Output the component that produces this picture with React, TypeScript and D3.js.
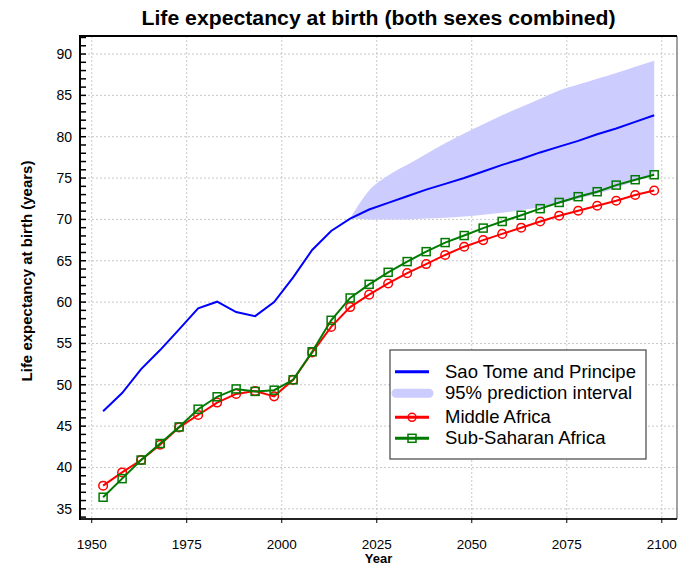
import React from "react";
import * as d3 from "d3";

const years = [1953,1958,1963,1968,1973,1978,1983,1988,1993,1998,2003,2008,2013,2018,2023,2028,2033,2038,2043,2048,2053,2058,2063,2068,2073,2078,2083,2088,2093,2098];
const saoTome = [46.8,49.0,51.9,54.2,56.7,59.25,60.05,58.8,58.3,60.0,63.0,66.3,68.6,70.1,71.2,72.0,72.8,73.6,74.3,75.0,75.8,76.6,77.3,78.1,78.8,79.5,80.3,81.0,81.8,82.6];
const middleAfrica = [37.8,39.4,40.9,42.75,44.85,46.35,47.85,48.9,49.25,48.6,50.6,53.9,57.0,59.4,60.9,62.25,63.5,64.6,65.7,66.7,67.5,68.25,69.0,69.75,70.45,71.05,71.65,72.25,72.95,73.5];
const subSaharan = [36.4,38.65,40.9,42.9,44.9,47.05,48.55,49.5,49.2,49.35,50.6,54.0,57.8,60.5,62.15,63.6,64.9,66.1,67.2,68.05,68.95,69.75,70.5,71.3,72.05,72.75,73.35,74.15,74.8,75.4];
const bandYears = [2018,2023,2028,2033,2038,2043,2048,2053,2058,2063,2068,2073,2078,2083,2088,2093,2098];
const bandUpper = [70.1,73.5,75.3,76.6,77.9,79.2,80.4,81.5,82.6,83.6,84.6,85.6,86.3,87.0,87.7,88.45,89.2];
const bandLower = [70.1,70.0,70.0,70.0,70.1,70.2,70.35,70.55,70.8,71.1,71.5,71.9,72.5,73.1,73.8,74.6,75.4];
const xTicks = [1950,1975,2000,2025,2050,2075,2100];
const yTicks = [35,40,45,50,55,60,65,70,75,80,85,90];
const legendLabels = ["Sao Tome and Principe","95% prediction interval","Middle Africa","Sub-Saharan Africa"];

const W = 696, H = 566;
const L = 80, R = 677, T = 36, B = 519;
const font = "Liberation Sans, Arial, Helvetica, sans-serif";

export default function App() {
  const x = d3.scaleLinear().domain([1946.92, 2104.0]).range([L, R]);
  const y = d3.scaleLinear().domain([33.77, 92.18]).range([B, T]);
  const line = d3.line<[number, number]>().x(d => x(d[0])).y(d => y(d[1]));
  const area = d3.area<number>()
    .curve(d3.curveMonotoneX)
    .x((_, i) => x(bandYears[i]))
    .y0((_, i) => y(bandLower[i]))
    .y1((_, i) => y(bandUpper[i]));
  const minor = d3.range(34, 93, 1);
  const pts = (vals: number[]) => years.map((yr, i) => [yr, vals[i]] as [number, number]);
  const green = "#007a00";
  const lx = 390, ly = 350, lw = 256, lh = 109;
  const rowY = [371.7, 393.3, 417.3, 438.3];

  return (
    <svg width={W} height={H} style={{ position: "absolute", left: 0, top: 0, background: "#fff" }} fontFamily={font}>
      <rect x={0} y={0} width={W} height={H} fill="#fff" />
      <text x={(L + R) / 2} y={25} textAnchor="middle" fontSize={20} fontWeight="bold" textLength={474} lengthAdjust="spacingAndGlyphs">Life expectancy at birth (both sexes combined)</text>
      {/* grid */}
      {xTicks.map(t => (
        <line key={"gx" + t} x1={x(t)} x2={x(t)} y1={T} y2={B} stroke="#c8c8c8" strokeDasharray="2,2" strokeWidth={1} />
      ))}
      {yTicks.map(t => (
        <line key={"gy" + t} x1={L} x2={R} y1={y(t)} y2={y(t)} stroke="#c8c8c8" strokeDasharray="2,2" strokeWidth={1} />
      ))}
      {/* band */}
      <path d={area(bandYears) || ""} fill="#ccccff" stroke="none" />
      {/* lines */}
      <path d={line(pts(saoTome)) || ""} fill="none" stroke="#0000ff" strokeWidth={2} />
      <path d={line(pts(middleAfrica)) || ""} fill="none" stroke="#ff0000" strokeWidth={2} />
      {pts(middleAfrica).map((p, i) => (
        <circle key={"c" + i} cx={x(p[0])} cy={y(p[1])} r={4.3} fill="none" stroke="#ff0000" strokeWidth={1.5} />
      ))}
      <path d={line(pts(subSaharan)) || ""} fill="none" stroke={green} strokeWidth={2} />
      {pts(subSaharan).map((p, i) => (
        <rect key={"s" + i} x={x(p[0]) - 4} y={y(p[1]) - 4} width={8} height={8} fill="none" stroke={green} strokeWidth={1.5} />
      ))}
      {/* frame */}
      <line x1={R} x2={R} y1={T} y2={B} stroke="#444" strokeWidth={1} />
      <line x1={L} x2={R} y1={T} y2={T} stroke="#000" strokeWidth={2} />
      <line x1={L} x2={R} y1={B} y2={B} stroke="#222" strokeWidth={2} />
      <line x1={L} x2={L} y1={T - 1} y2={B + 1} stroke="#000" strokeWidth={2} />
      {minor.map(t => (
        <line key={"m" + t} x1={L} x2={L + 6} y1={y(t)} y2={y(t)} stroke="#000" strokeWidth={1.5} />
      ))}
      {xTicks.map(t => (
        <line key={"xt" + t} x1={x(t)} x2={x(t)} y1={B} y2={B + 4} stroke="#000" strokeWidth={1} />
      ))}
      {/* tick labels */}
      {yTicks.map(t => (
        <text key={"yl" + t} x={72} y={y(t) + 5} textAnchor="end" fontSize={14}>{t}</text>
      ))}
      {xTicks.map(t => (
        <text key={"xl" + t} x={x(t)} y={549} textAnchor="middle" fontSize={13.5}>{t}</text>
      ))}
      <text x={(L + R) / 2} y={563} textAnchor="middle" fontSize={13} fontWeight="bold">Year</text>
      <text transform={`translate(32,271) rotate(-90)`} textAnchor="middle" fontSize={15} fontWeight="bold">Life expectancy at birth (years)</text>
      {/* legend */}
      <rect x={lx} y={ly} width={lw} height={lh} fill="#fff" stroke="#444" strokeWidth={1.2} />
      <line x1={395} x2={429} y1={rowY[0]} y2={rowY[0]} stroke="#0000ff" strokeWidth={3} />
      <line x1={396} x2={429} y1={rowY[1]} y2={rowY[1]} stroke="#ccccff" strokeWidth={9} strokeLinecap="round" />
      <line x1={395} x2={429} y1={rowY[2]} y2={rowY[2]} stroke="#ff0000" strokeWidth={3} />
      <circle cx={412} cy={rowY[2]} r={4} fill="none" stroke="#ff0000" strokeWidth={1.5} />
      <line x1={395} x2={429} y1={rowY[3]} y2={rowY[3]} stroke={green} strokeWidth={3} />
      <rect x={408} y={rowY[3] - 4} width={8} height={8} fill="none" stroke={green} strokeWidth={1.5} />
      {legendLabels.map((s, i) => (
        <text key={"lg" + i} x={445} y={rowY[i] + 6} fontSize={18.5}>{s}</text>
      ))}
    </svg>
  );
}
